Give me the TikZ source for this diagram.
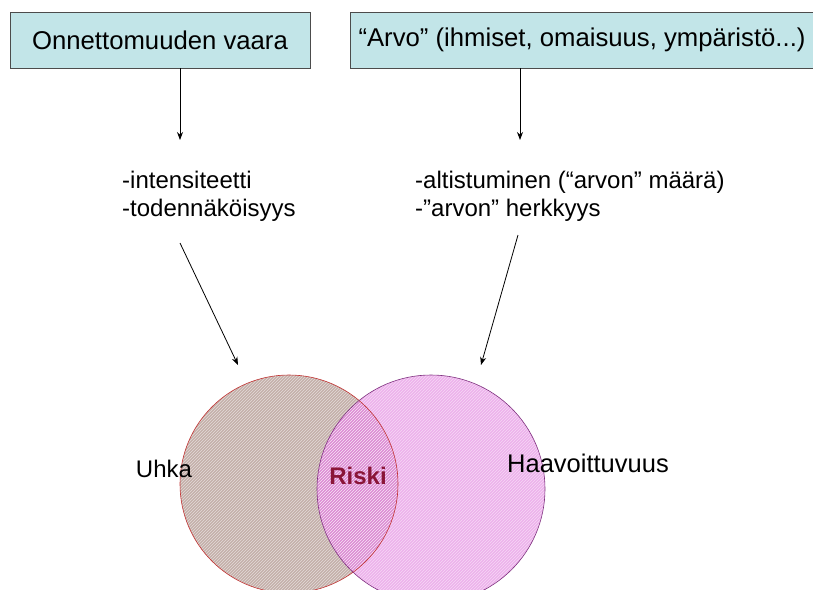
\documentclass[tikz,border=0pt]{standalone}
\usepackage{fontspec}
\setmainfont{Liberation Sans}
\usetikzlibrary{arrows.meta,patterns}

\definecolor{boxcyan}{HTML}{C2E5E8}
\definecolor{uhkafill}{HTML}{C4B0AA}
\definecolor{haavfill}{HTML}{EDB2EC}
\definecolor{riskfill}{HTML}{DC86D4}
\definecolor{riskred}{HTML}{8A1538}

\begin{document}
\begin{tikzpicture}[x=1pt,y=-1pt,
  font=\fontsize{24}{28}\selectfont,
  otsikko/.style={draw=black!70, fill=boxcyan, inner sep=0pt, minimum height=56pt,
    font=\fontsize{25.7}{30}\selectfont},
  teksti/.style={align=left, anchor=west, inner sep=0pt},
  nuoli/.style={-{Stealth[length=8pt,width=6pt]}, line width=0.8pt}]
  \useasboundingbox (0,0) rectangle (813,589);

  % Venn
  \fill[uhkafill] (289,484) circle (109);
  \fill[haavfill] (431,489) circle (114);
  \begin{scope}
    \clip (289,484) circle (109);
    \fill[riskfill] (431,489) circle (114);
  \end{scope}
  \fill[pattern=north east lines, pattern color=white!55!uhkafill] (289,484) circle (109);
  \fill[pattern=north east lines, pattern color=white!50!haavfill] (431,489) circle (114);
  \node[circle, draw=red!70!black!80, line width=0.6pt, minimum size=218pt, inner sep=0pt] (uhka) at (289,484) {};
  \node[circle, draw=violet!60!gray, line width=0.6pt, minimum size=228pt, inner sep=0pt] (haav) at (431,489) {};

  % otsikot
  \node[otsikko, minimum width=300pt] (vaara) at (160,40) {Onnettomuuden vaara};
  \node[otsikko, minimum width=464pt] (arvo) at (582,40) {“Arvo” (ihmiset, omaisuus, ympäristö...)};

  % tekijat
  \node[teksti] (tekijat) at (122,196) {-intensiteetti\\-todennäköisyys};
  \node[teksti] (altistus) at (415,196) {-altistuminen (“arvon” määrä)\\-”arvon” herkkyys};

  \node (uhkateksti) at (164,469) {Uhka};
  \node[font=\fontsize{24}{28}\selectfont\bfseries, text=riskred] (riski) at (358,476) {Riski};
  \node[anchor=west, inner sep=0pt, font=\fontsize{25.5}{30}\selectfont] (haavteksti) at (507,463) {Haavoittuvuus};

  \coordinate (a1) at (180,140);
  \coordinate (a2) at (520,140);
  \coordinate (b1) at (180,243);
  \coordinate (b2) at (518,235);
  \coordinate (c1) at (238,365);
  \coordinate (c2) at (481,365);

  \draw[nuoli] (vaara.south -| a1) to (a1);
  \draw[nuoli] (arvo.south -| a2) to (a2);
  \draw[nuoli] (b1) to (c1);
  \draw[nuoli] (b2) to (c2);

\end{tikzpicture}
\end{document}
